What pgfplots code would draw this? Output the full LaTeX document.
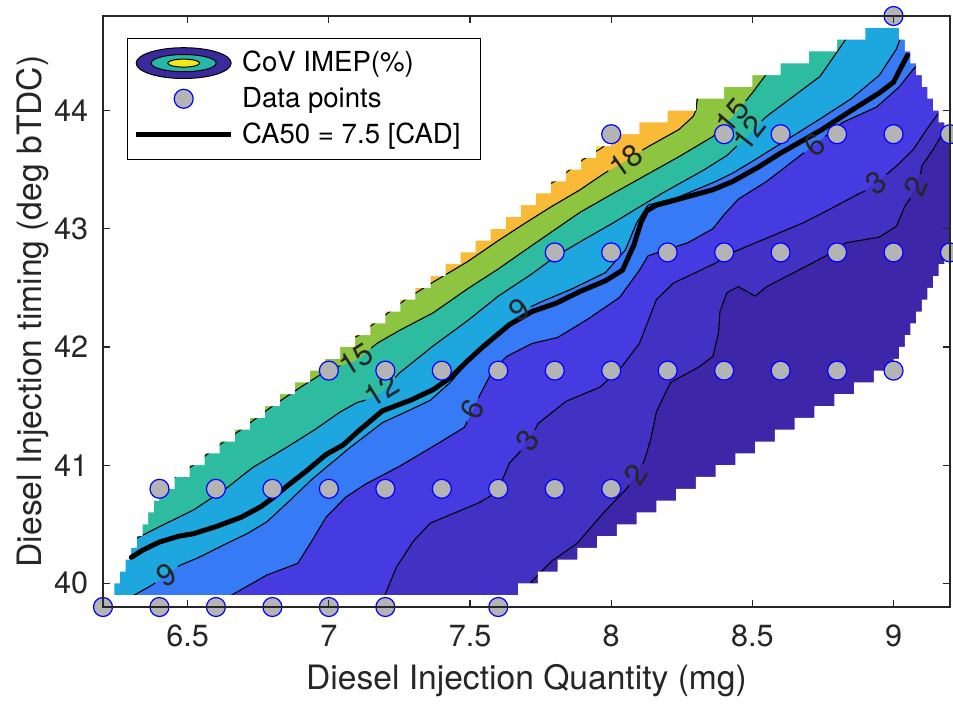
\documentclass[border=0pt]{standalone}
\usepackage{pgfplots}
\pgfplotsset{compat=1.18}
\usepackage{fontspec}
\setmainfont{TeX Gyre Heros}
\definecolor{c0}{RGB}{62,38,168}
\definecolor{c1}{RGB}{66,50,196}
\definecolor{c2}{RGB}{70,58,225}
\definecolor{c3}{RGB}{55,122,246}
\definecolor{c4}{RGB}{30,166,222}
\definecolor{c5}{RGB}{45,188,160}
\definecolor{c6}{RGB}{141,196,64}
\definecolor{c7}{RGB}{249,186,56}
\definecolor{c8}{RGB}{246,227,30}
\definecolor{axgray}{RGB}{38,38,38}
\definecolor{ptgray}{RGB}{180,180,180}
\definecolor{legdark}{RGB}{58,42,155}
\definecolor{legteal}{RGB}{38,183,168}
\definecolor{legyel}{RGB}{245,228,30}
\tikzset{clab/.style={text=axgray, font=\fontsize{15.3}{18}\selectfont, inner sep=0pt}}
\begin{document}
\begin{tikzpicture}
\begin{axis}[
  at={(0pt,0pt)}, anchor=south west, scale only axis,
  width=423.5pt, height=295.5pt,
  xmin=6.2, xmax=9.2, ymin=39.8, ymax=44.8,
  xtick={6.5,7,7.5,8,8.5,9}, ytick={40,41,42,43,44},
  tick align=inside, major tick length=3.5pt,
  every tick/.style={axgray, line width=0.6pt},
  axis line style={axgray, line width=0.6pt},
  ticklabel style={font=\fontsize{15.3}{18}\selectfont, text=axgray},
  /pgf/number format/assume math mode=true,
  xticklabel style={yshift=-5.4pt},
  yticklabel style={xshift=-3.9pt},
  xlabel={Diesel Injection Quantity (mg)},
  ylabel={Diesel Injection timing (deg bTDC)},
  label style={font=\fontsize{16.8}{20}\selectfont, text=axgray},
  xlabel style={at={([yshift=-25.4pt]axis description cs:0.5,0)}, anchor=north},
  ylabel style={at={([xshift=-23.5pt]axis description cs:0,0.5)}, anchor=south},
  clip=false, set layers, axis on top, unbounded coords=jump,
  legend style={at={(0.0283,0.9628)}, anchor=north west, draw=black, line width=0.5pt, fill=white,
    font=\fontsize{13.8}{16}\selectfont, inner xsep=3.1pt, inner ysep=4.2pt,
    nodes={inner sep=2.2pt}, row sep=1.75pt,
    /tikz/every odd column/.append style={column sep=2pt}},
  legend cell align=left,
]
% base
\addplot[fill=c0, draw=none, forget plot] coordinates {(6.2,39.8) (9.2,39.8) (9.2,44.8) (6.2,44.8)};
% >=2
\addplot[fill=c1, draw=none, forget plot] coordinates {(7.75,39.8) (7.75,39.95) (7.716,40.01) (7.79,40.19) (7.88,40.34) (7.97,40.59) (8.05,40.79) (8.088,40.92) (8.12,41.06) (8.14,41.22) (8.16,41.45) (8.21,41.70) (8.31,41.83) (8.36,41.92) (8.38,42.12) (8.385,42.30) (8.41,42.46) (8.45,42.51) (8.51,42.43) (8.55,42.51) (8.64,42.62) (8.76,42.77) (8.83,42.88) (8.95,42.93) (9.01,43.02) (9.04,43.19) (9.078,43.36) (9.10,43.53) (9.14,43.67) (9.17,43.79) (9.19,43.86) (9.2,43.88) (9.2,44.8) (6.2,44.8) (6.2,39.8)};
% >=3
\addplot[fill=c2, draw=none, forget plot] coordinates {(7.19,39.8) (7.198,39.9) (7.24,40.14) (7.30,40.36) (7.36,40.51) (7.45,40.60) (7.53,40.68) (7.58,40.75) (7.61,40.85) (7.64,41.02) (7.705,41.21) (7.74,41.35) (7.84,41.54) (7.96,41.66) (8.03,41.81) (8.10,42.03) (8.16,42.40) (8.22,42.54) (8.37,42.71) (8.43,42.80) (8.54,42.91) (8.68,43.05) (8.77,43.16) (8.88,43.30) (8.937,43.39) (9.01,43.53) (9.07,43.67) (9.12,43.85) (9.16,43.98) (9.2,44.02) (9.2,44.8) (6.2,44.8) (6.2,39.8)};
% >=6
\addplot[fill=c3, draw=none, forget plot] coordinates {(6.64,39.8) (6.655,39.9) (6.78,40.07) (6.89,40.17) (6.94,40.36) (6.99,40.56) (7.06,40.73) (7.13,40.84) (7.25,40.99) (7.37,41.16) (7.48,41.32) (7.51,41.47) (7.53,41.58) (7.58,41.80) (7.63,41.92) (7.72,42.03) (7.81,42.08) (7.92,42.24) (8.03,42.42) (8.10,42.65) (8.13,42.77) (8.19,42.82) (8.27,42.88) (8.36,43.0) (8.40,43.12) (8.45,43.25) (8.55,43.40) (8.67,43.62) (8.72,43.71) (8.82,43.90) (8.94,44.03) (9.02,44.20) (9.07,44.35) (9.10,44.42) (9.14,44.5) (9.2,44.8) (6.2,44.8) (6.2,39.8)};
% >=9
\addplot[fill=c4, draw=none, forget plot] coordinates {(6.30,39.8) (6.31,39.90) (6.37,39.98) (6.425,40.07) (6.47,40.15) (6.54,40.22) (6.64,40.34) (6.71,40.42) (6.78,40.52) (6.83,40.63) (6.87,40.72) (6.94,40.88) (7.00,41.00) (7.07,41.14) (7.19,41.36) (7.29,41.47) (7.36,41.55) (7.43,41.70) (7.52,41.95) (7.60,42.12) (7.675,42.28) (7.75,42.38) (7.86,42.49) (7.98,42.63) (8.05,42.82) (8.09,43.05) (8.13,43.20) (8.24,43.27) (8.37,43.40) (8.43,43.47) (8.52,43.60) (8.60,43.72) (8.74,43.93) (8.85,44.10) (8.95,44.30) (9.01,44.52) (9.03,44.65) (9.05,44.8) (6.2,44.8) (6.2,39.8)};
% >=12
\addplot[fill=c5, draw=none, forget plot] coordinates {(6.2,40.28) (6.25,40.30) (6.31,40.37) (6.40,40.48) (6.52,40.62) (6.64,40.81) (6.73,40.98) (6.85,41.15) (6.95,41.30) (7.04,41.45) (7.10,41.53) (7.186,41.61) (7.25,41.78) (7.37,42.01) (7.49,42.22) (7.60,42.43) (7.72,42.62) (7.805,42.77) (7.89,42.89) (8.0,43.04) (8.18,43.30) (8.33,43.50) (8.41,43.62) (8.49,43.80) (8.55,43.95) (8.74,44.29) (8.83,44.60) (8.84,44.8) (6.2,44.8)};
% >=15
\addplot[fill=c6, draw=none, forget plot] coordinates {(6.38,40.80) (6.40,40.82) (6.45,40.89) (6.52,41.00) (6.60,41.15) (6.70,41.32) (6.80,41.50) (6.90,41.66) (7.00,41.81) (7.10,41.89) (7.17,42.03) (7.25,42.14) (7.37,42.29) (7.49,42.49) (7.60,42.66) (7.72,42.86) (7.89,43.14) (8.00,43.29) (8.12,43.45) (8.24,43.61) (8.36,43.78) (8.43,43.95) (8.50,44.15) (8.55,44.31) (8.56,44.8) (6.2,44.8) (6.2,40.8)};
% >=18
\addplot[fill=c7, draw=none, forget plot] coordinates {(7.0,42.0) (7.05,42.05) (7.10,42.09) (7.20,42.27) (7.27,42.40) (7.37,42.55) (7.49,42.72) (7.60,42.90) (7.69,43.04) (7.79,43.19) (7.89,43.33) (7.97,43.46) (8.052,43.575) (8.135,43.70) (8.24,43.84) (8.29,43.95) (8.30,44.0) (8.31,44.8) (6.2,44.8) (6.2,42.0)};
% >=21
\addplot[fill=c8, draw=none, forget plot] coordinates {(7.72,43.31) (7.80,43.40) (7.90,43.585) (7.97,43.69) (8.01,43.79) (8.02,43.85) (8.02,44.8) (6.2,44.8) (6.2,43.3)};
% contour lines
\addplot[black, line width=0.55pt, forget plot] coordinates {(7.75,39.95) (7.716,40.01) (7.79,40.19) (7.88,40.34) (7.97,40.59) (8.05,40.79) (8.064,40.83) (8.09,nan) (8.112,41.01) (8.12,41.06) (8.14,41.22) (8.16,41.45) (8.21,41.70) (8.31,41.83) (8.36,41.92) (8.38,42.12) (8.385,42.30) (8.41,42.46) (8.45,42.51) (8.51,42.43) (8.55,42.51) (8.64,42.62) (8.76,42.77) (8.83,42.88) (8.95,42.93) (9.01,43.02) (9.04,43.19) (9.06,43.26) (9.08,nan) (9.096,43.46) (9.10,43.53) (9.14,43.67) (9.17,43.79) (9.19,43.86) (9.2,43.88)};
\addplot[black, line width=0.55pt, forget plot] coordinates {(7.19,39.8) (7.198,39.9) (7.24,40.14) (7.30,40.36) (7.36,40.51) (7.45,40.60) (7.53,40.68) (7.58,40.75) (7.61,40.85) (7.64,41.02) (7.68,41.12) (7.70,nan) (7.73,41.30) (7.74,41.35) (7.84,41.54) (7.96,41.66) (8.03,41.81) (8.10,42.03) (8.16,42.40) (8.22,42.54) (8.37,42.71) (8.43,42.80) (8.54,42.91) (8.68,43.05) (8.77,43.16) (8.88,43.30) (8.90,43.32) (8.94,nan) (8.975,43.46) (9.01,43.53) (9.07,43.67) (9.12,43.85) (9.16,43.98) (9.2,44.02)};
\addplot[black, line width=0.55pt, forget plot] coordinates {(6.64,39.8) (6.655,39.9) (6.78,40.07) (6.89,40.17) (6.94,40.36) (6.99,40.56) (7.06,40.73) (7.13,40.84) (7.25,40.99) (7.37,41.16) (7.48,41.32) (7.49,41.37) (7.51,nan) (7.53,41.57) (7.58,41.80) (7.63,41.92) (7.72,42.03) (7.81,42.08) (7.92,42.24) (8.03,42.42) (8.10,42.65) (8.13,42.77) (8.19,42.82) (8.27,42.88) (8.36,43.0) (8.40,43.12) (8.45,43.25) (8.55,43.40) (8.67,43.62) (8.683,43.644) (8.72,nan) (8.757,43.78) (8.82,43.90) (8.94,44.03) (9.02,44.20) (9.07,44.35) (9.10,44.42) (9.14,44.5)};
\addplot[black, line width=0.55pt, forget plot] coordinates {(6.30,39.8) (6.31,39.90) (6.37,39.98) (6.385,40.005) (6.42,nan) (6.465,40.14) (6.47,40.15) (6.54,40.22) (6.64,40.34) (6.71,40.42) (6.78,40.52) (6.83,40.63) (6.87,40.72) (6.94,40.88) (7.00,41.00) (7.07,41.14) (7.19,41.36) (7.29,41.47) (7.36,41.55) (7.43,41.70) (7.52,41.95) (7.60,42.12) (7.635,42.20) (7.67,nan) (7.715,42.34) (7.75,42.38) (7.86,42.49) (7.98,42.63) (8.05,42.82) (8.09,43.05) (8.13,43.20) (8.24,43.27) (8.37,43.40) (8.43,43.47) (8.52,43.60) (8.60,43.72) (8.74,43.93) (8.85,44.10) (8.95,44.30) (9.01,44.52) (9.03,44.65) (9.05,44.8)};
\addplot[black, line width=0.55pt, forget plot] coordinates {(6.25,40.30) (6.31,40.37) (6.40,40.48) (6.52,40.62) (6.64,40.81) (6.73,40.98) (6.85,41.15) (6.95,41.30) (7.04,41.45) (7.10,41.53) (7.13,41.55) (7.18,nan) (7.235,41.74) (7.25,41.78) (7.37,42.01) (7.49,42.22) (7.60,42.43) (7.72,42.62) (7.805,42.77) (7.89,42.89) (8.0,43.04) (8.18,43.30) (8.33,43.50) (8.41,43.62) (8.445,43.70) (8.49,nan) (8.533,43.91) (8.55,43.95) (8.74,44.29) (8.83,44.60) (8.84,44.8)};
\addplot[black, line width=0.55pt, forget plot] coordinates {(6.38,40.80) (6.40,40.82) (6.45,40.89) (6.52,41.00) (6.60,41.15) (6.70,41.32) (6.80,41.50) (6.90,41.66) (7.00,41.81) (7.04,41.84) (7.10,nan) (7.15,41.99) (7.17,42.03) (7.25,42.14) (7.37,42.29) (7.49,42.49) (7.60,42.66) (7.72,42.86) (7.89,43.14) (8.00,43.29) (8.12,43.45) (8.24,43.61) (8.36,43.78) (8.384,43.84) (8.43,nan) (8.476,44.08) (8.50,44.15) (8.55,44.31) (8.56,44.8)};
\addplot[black, line width=0.55pt, forget plot] coordinates {(7.05,42.05) (7.10,42.09) (7.20,42.27) (7.27,42.40) (7.37,42.55) (7.49,42.72) (7.60,42.90) (7.69,43.04) (7.79,43.19) (7.89,43.33) (7.97,43.46) (7.99,43.49) (8.05,nan) (8.11,43.665) (8.135,43.70) (8.24,43.84) (8.29,43.95) (8.30,44.0) (8.31,44.2)};
\addplot[black, line width=0.55pt, forget plot] coordinates {(7.72,43.31) (7.80,43.40) (7.90,43.585) (7.97,43.69) (8.01,43.79) (8.02,43.85)};
% white mask outside the interpolation domain
\addplot[fill=white, draw=none, forget plot] coordinates {(6.2,39.8) (9.2,39.8) (9.2,44.8) (6.2,44.8) (6.2,39.8)
(6.24,39.9) (6.24,40.0) (6.26,40.0) (6.26,40.1) (6.28,40.1) (6.28,40.2) (6.30,40.2) (6.30,40.3) (6.32,40.3) (6.32,40.4) (6.34,40.4) (6.34,40.5) (6.36,40.5) (6.36,40.6) (6.38,40.6) (6.38,40.7) (6.40,40.7) (6.40,40.8) (6.4533,40.8) (6.4533,40.9) (6.5067,40.9) (6.5067,41.0) (6.56,41.0) (6.56,41.1) (6.6133,41.1) (6.6133,41.2) (6.6667,41.2) (6.6667,41.3) (6.72,41.3) (6.72,41.4) (6.7733,41.4) (6.7733,41.5) (6.8267,41.5) (6.8267,41.6) (6.88,41.6) (6.88,41.7) (6.9333,41.7) (6.9333,41.8) (6.9867,41.8) (6.9867,41.9) (7.04,41.9) (7.04,42.0) (7.0933,42.0) (7.0933,42.1) (7.1467,42.1) (7.1467,42.2) (7.2,42.2) (7.2,42.3) (7.2533,42.3) (7.2533,42.4) (7.3067,42.4) (7.3067,42.5) (7.36,42.5) (7.36,42.6) (7.4133,42.6) (7.4133,42.7) (7.4667,42.7) (7.4667,42.8) (7.52,42.8) (7.52,42.9) (7.5733,42.9) (7.5733,43.0) (7.6267,43.0) (7.6267,43.1) (7.68,43.1) (7.68,43.2) (7.7333,43.2) (7.7333,43.3) (7.7867,43.3) (7.7867,43.4) (7.84,43.4) (7.84,43.5) (7.8933,43.5) (7.8933,43.6) (7.9467,43.6) (7.9467,43.7) (8.0,43.7) (8.0,43.8) (8.1,43.8) (8.1,43.9) (8.2,43.9) (8.2,44.0) (8.3,44.0) (8.3,44.1) (8.4,44.1) (8.4,44.2) (8.5,44.2) (8.5,44.3) (8.6,44.3) (8.6,44.4) (8.7,44.4) (8.7,44.5) (8.8,44.5) (8.8,44.6) (8.9,44.6) (8.9,44.7)
(9.02,44.7) (9.02,44.6) (9.04,44.6) (9.04,44.5) (9.06,44.5) (9.06,44.4) (9.08,44.4) (9.08,44.3) (9.10,44.3) (9.10,44.2) (9.12,44.2) (9.12,44.1) (9.14,44.1) (9.14,44.0) (9.16,44.0) (9.16,43.9) (9.18,43.9) (9.18,43.8) (9.2,43.8) (9.2,42.8) (9.18,42.8) (9.18,42.7) (9.16,42.7) (9.16,42.6) (9.14,42.6) (9.14,42.5) (9.12,42.5) (9.12,42.4) (9.10,42.4) (9.10,42.3) (9.08,42.3) (9.08,42.2) (9.06,42.2) (9.06,42.1) (9.04,42.1) (9.04,42.0) (9.02,42.0) (9.02,41.9) (9.00,41.9) (9.00,41.8) (8.93,41.8) (8.93,41.7) (8.86,41.7) (8.86,41.6) (8.79,41.6) (8.79,41.5) (8.72,41.5) (8.72,41.4) (8.65,41.4) (8.65,41.3) (8.58,41.3) (8.58,41.2) (8.51,41.2) (8.51,41.1) (8.44,41.1) (8.44,41.0) (8.37,41.0) (8.37,40.9) (8.30,40.9) (8.30,40.8) (8.23,40.8) (8.23,40.7) (8.16,40.7) (8.16,40.6) (8.09,40.6) (8.09,40.5) (8.02,40.5) (8.02,40.4) (7.95,40.4) (7.95,40.3) (7.88,40.3) (7.88,40.2) (7.81,40.2) (7.81,40.1) (7.74,40.1) (7.74,40.0) (7.67,40.0) (7.67,39.9) (6.24,39.9) (6.2,39.8)};
% CA50 line
\addplot[black, line width=2.5pt, line join=round, line cap=round, forget plot] coordinates {(6.30,40.22) (6.34,40.28) (6.40,40.35) (6.47,40.40) (6.52,40.42) (6.60,40.48) (6.69,40.56) (6.76,40.65) (6.80,40.72) (6.85,40.82) (6.92,40.95) (6.99,41.09) (7.05,41.17) (7.11,41.30) (7.19,41.46) (7.29,41.55) (7.37,41.64) (7.43,41.74) (7.49,41.88) (7.545,42.0) (7.64,42.19) (7.72,42.30) (7.805,42.37) (7.89,42.47) (7.98,42.56) (8.04,42.65) (8.08,42.86) (8.105,43.05) (8.125,43.15) (8.16,43.20) (8.20,43.225) (8.36,43.33) (8.43,43.40) (8.52,43.52) (8.60,43.64) (8.74,43.83) (8.85,44.00) (8.95,44.15) (9.00,44.24) (9.03,44.38) (9.05,44.47)};
% contour labels
\node[clab, rotate=35] at (axis cs:8.052,43.575) {18};
\node[clab, rotate=32] at (axis cs:7.097,41.89) {15};
\node[clab, rotate=32] at (axis cs:7.186,41.63) {12};
\node[clab, rotate=30] at (axis cs:6.425,40.07) {9};
\node[clab, rotate=35] at (axis cs:7.675,42.31) {9};
\node[clab, rotate=65] at (axis cs:7.51,41.47) {6};
\node[clab, rotate=55] at (axis cs:7.705,41.21) {3};
\node[clab, rotate=58] at (axis cs:8.088,40.92) {2};
\node[clab, rotate=37] at (axis cs:8.72,43.71) {6};
\node[clab, rotate=36] at (axis cs:8.937,43.39) {3};
\node[clab, rotate=67] at (axis cs:9.078,43.36) {2};
\node[clab, rotate=50] at (axis cs:8.43,43.96) {15};
\node[clab, rotate=52] at (axis cs:8.489,43.81) {12};
% data points
\addplot[only marks, mark=*, mark size=4.75pt, mark options={fill=ptgray, draw=blue, line width=0.6pt}, on layer=axis foreground, forget plot] coordinates {
(6.2,39.8) (6.4,39.8) (6.6,39.8) (6.8,39.8) (7.0,39.8) (7.2,39.8) (7.6,39.8)
(6.4,40.8) (6.6,40.8) (6.8,40.8) (7.0,40.8) (7.2,40.8) (7.4,40.8) (7.6,40.8) (7.8,40.8) (8.0,40.8)
(7.0,41.8) (7.2,41.8) (7.4,41.8) (7.6,41.8) (7.8,41.8) (8.0,41.8) (8.2,41.8) (8.4,41.8) (8.6,41.8) (8.8,41.8) (9.0,41.8)
(7.8,42.8) (8.0,42.8) (8.2,42.8) (8.4,42.8) (8.6,42.8) (8.8,42.8) (9.0,42.8) (9.2,42.8)
(8.0,43.8) (8.4,43.8) (8.6,43.8) (8.8,43.8) (9.0,43.8) (9.2,43.8)
(9.0,44.8)};
% legend
\addlegendimage{legend image code/.code={
  \draw[fill=legdark, line width=0.5pt] (23.75pt,0pt) ellipse [x radius=23.75pt, y radius=7.7pt];
  \draw[fill=legteal, line width=0.5pt] (23.75pt,0pt) ellipse [x radius=16.25pt, y radius=4.3pt];
  \draw[fill=legyel, line width=0.5pt] (23.75pt,0pt) ellipse [x radius=8pt, y radius=2pt];}}
\addlegendentry{\makebox[114pt][l]{CoV IMEP(\%)}}
\addlegendimage{legend image code/.code={
  \draw[fill=ptgray, draw=blue, line width=0.6pt] (23.75pt,0pt) circle [radius=4.75pt];}}
\addlegendentry{\makebox[114pt][l]{Data points}}
\addlegendimage{legend image code/.code={
  \draw[black, line width=2.5pt] (0pt,0pt) -- (47.5pt,0pt);}}
\addlegendentry{\makebox[114pt][l]{CA50 = 7.5 [CAD]}}
\end{axis}
\pgfresetboundingbox
\path[use as bounding box] (-51.5pt,-48pt) rectangle (425pt,303.5pt);
\end{tikzpicture}
\end{document}
